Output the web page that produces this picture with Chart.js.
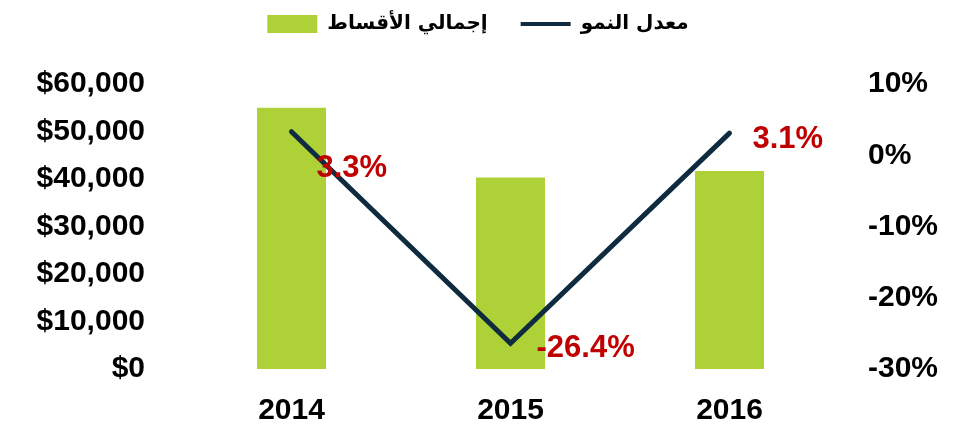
<!DOCTYPE html>
<html>
<head>
<meta charset="utf-8">
<script src="https://cdn.jsdelivr.net/npm/chart.js@4"></script>
<style>
  html, body { margin: 0; padding: 0; background: #fff; }
  #wrap { width: 956px; height: 425px; }
</style>
</head>
<body>
<div id="wrap"><canvas id="chart" width="956" height="425"></canvas></div>
<script>
const years = ["2014", "2015", "2016"];
const premiums = [55000, 40300, 41700];
const growth = [3.3, -26.4, 3.1];
const premiumLabel = "إجمالي الأقساط";
const growthLabel = "معدل النمو";

const GREEN = "#add136";
const NAVY = "#0f2b40";
const RED = "#c00000";
const tickFont = { family: "Arial, 'Liberation Sans'", size: 30, weight: "bold" };

// red % labels next to the line points
const growthLabels = {
  id: "growthLabels",
  afterDatasetsDraw(chart) {
    const meta = chart.getDatasetMeta(1);
    const offsets = [[25, 37], [26, 5], [23, 6]];
    const ctx = chart.ctx;
    ctx.save();
    ctx.font = "bold 31px Arial, 'Liberation Sans'";
    ctx.fillStyle = RED;
    ctx.textAlign = "left";
    ctx.textBaseline = "middle";
    meta.data.forEach((pt, i) => {
      ctx.fillText(growth[i].toFixed(1) + "%", pt.x + offsets[i][0], pt.y + offsets[i][1]);
    });
    ctx.restore();
  },
};

// leave more room under the legend
const legendGap = {
  id: "legendGap",
  afterInit(chart) {
    const lg = chart.legend;
    const fit = lg.fit;
    lg.fit = function () {
      fit.call(this);
      this.height += 40;
    };
  },
};

new Chart(document.getElementById("chart"), {
  data: {
    labels: years,
    datasets: [
      {
        type: "bar",
        label: premiumLabel,
        data: premiums,
        backgroundColor: GREEN,
        yAxisID: "y",
        categoryPercentage: 1,
        barPercentage: 0.315,
        order: 2,
      },
      {
        type: "line",
        label: growthLabel,
        data: growth,
        borderColor: NAVY,
        borderWidth: 5,
        borderCapStyle: "round",
        pointRadius: 0,
        tension: 0,
        yAxisID: "y1",
        order: 1,
      },
    ],
  },
  options: {
    responsive: false,
    animation: false,
    layout: { padding: { top: -19, bottom: 0, left: 0, right: 0 } },
    plugins: {
      tooltip: { enabled: false },
      legend: {
        position: "top",
        labels: {
          usePointStyle: true,
          pointStyleWidth: 50,
          boxHeight: 18,
          padding: 33,
          color: "#000",
          font: { family: "'DejaVu Sans'", size: 20, weight: "bold" },
          generateLabels(chart) {
            return [
              { text: premiumLabel, fillStyle: GREEN, strokeStyle: GREEN, lineWidth: 0, pointStyle: "rect", datasetIndex: 0 },
              { text: growthLabel, fillStyle: NAVY, strokeStyle: NAVY, lineWidth: 4, pointStyle: "line", datasetIndex: 1 },
            ];
          },
        },
      },
    },
    scales: {
      x: {
        grid: { display: false, drawTicks: false },
        border: { display: false },
        ticks: { color: "#000", font: tickFont, padding: 24 },
        afterFit(s) { s.height = 56; },
      },
      y: {
        position: "left",
        min: 0,
        max: 60000,
        grid: { display: false, drawTicks: false },
        border: { display: false },
        ticks: {
          stepSize: 10000,
          color: "#000",
          font: tickFont,
          padding: 37,
          callback: (v) => "$" + v.toLocaleString("en-US"),
        },
        afterFit(s) { s.width = 182; },
      },
      y1: {
        position: "right",
        min: -30,
        max: 10,
        grid: { display: false, drawTicks: false },
        border: { display: false },
        ticks: {
          stepSize: 10,
          color: "#000",
          font: tickFont,
          padding: 29,
          callback: (v) => v + "%",
        },
        afterFit(s) { s.width = 117; },
      },
    },
  },
  plugins: [growthLabels, legendGap],
});
</script>
</body>
</html>
